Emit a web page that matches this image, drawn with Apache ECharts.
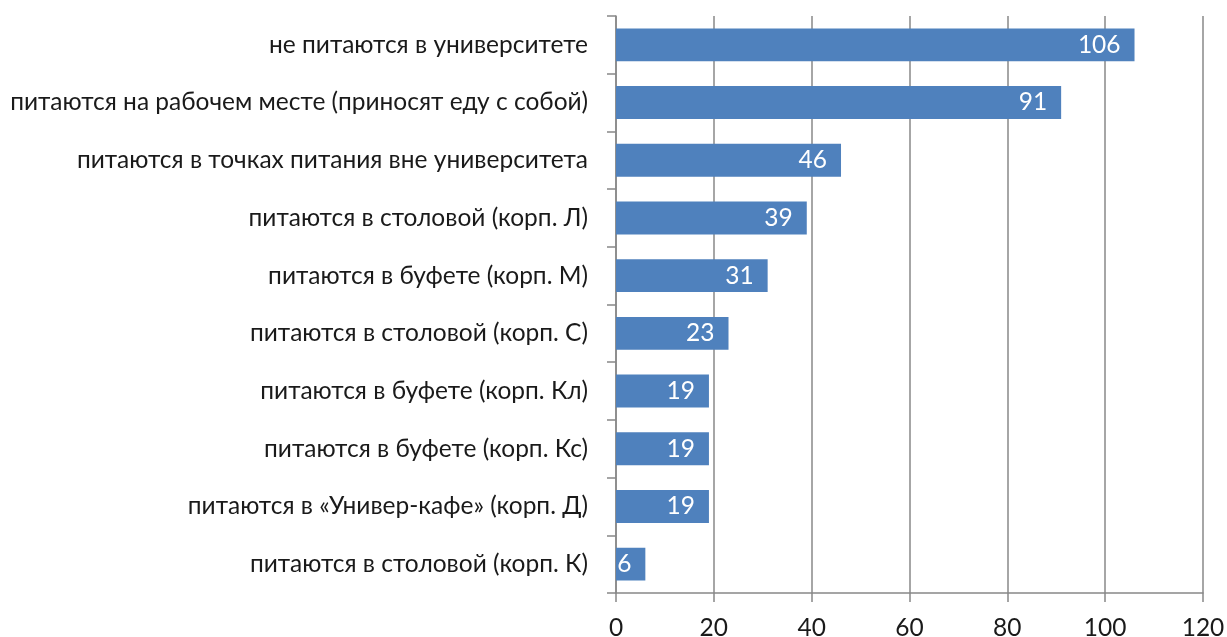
<!DOCTYPE html>
<html><head><meta charset="utf-8">
<script src="https://cdn.jsdelivr.net/npm/echarts@6/dist/echarts.min.js"></script>
<style>html,body{margin:0;padding:0;background:#fff}#c{width:1227px;height:637px}</style>
</head><body><div id="c"></div>
<script>
const categories = [
  "не питаются в университете",
  "питаются на рабочем месте (приносят еду с собой)",
  "питаются в точках питания вне университета",
  "питаются в столовой (корп. Л)",
  "питаются в буфете (корп. М)",
  "питаются в столовой (корп. С)",
  "питаются в буфете (корп. Кл)",
  "питаются в буфете (корп. Кс)",
  "питаются в «Универ-кафе» (корп. Д)",
  "питаются в столовой (корп. К)"
];
const values = [106, 91, 46, 39, 31, 23, 19, 19, 19, 6];
const xTicks = [0, 20, 40, 60, 80, 100, 120];

const FONT = 'Lato';
const FS = 24.5;
const chart = echarts.init(document.getElementById('c'));
chart.setOption({
  animation: false,
  grid: {left: 616, right: 24, top: 16, bottom: 44, containLabel: false, outerBoundsMode: 'none'},
  xAxis: {
    type: 'value', min: xTicks[0], max: xTicks[xTicks.length-1], interval: 20,
    axisLine: {show: true, lineStyle: {color: '#888', width: 1.5}},
    axisTick: {show: true, length: 9, lineStyle: {color: '#888', width: 1.5}},
    axisLabel: {color: '#1a1a1a', fontSize: FS, fontFamily: FONT, margin: 23},
    splitLine: {show: true, lineStyle: {color: '#888', width: 1.5}}
  },
  yAxis: {
    type: 'category', inverse: true, data: categories,
    axisLine: {show: true, lineStyle: {color: '#888', width: 1.5}},
    axisTick: {show: true, length: 9, lineStyle: {color: '#888', width: 1.5}},
    axisLabel: {color: '#1a1a1a', fontSize: FS, fontFamily: FONT, margin: 28}
  },
  series: [{
    type: 'bar', data: values, barCategoryGap: '43%',
    itemStyle: {color: '#4F81BD'},
    label: {show: true, position: 'insideRight', color: '#fff', fontSize: FS, fontFamily: FONT, distance: 14}
  }]
});
</script></body></html>
